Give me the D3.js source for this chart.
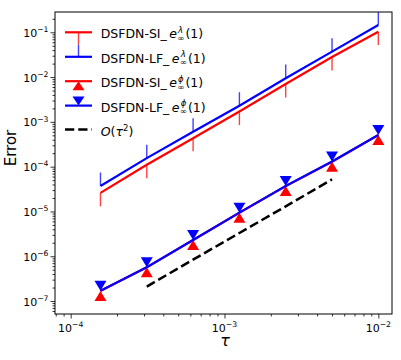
<!DOCTYPE html>
<html>
<head>
<meta charset="utf-8">
<script src="https://cdn.jsdelivr.net/npm/d3@7"></script>
<style>
body { margin: 0; background: #fff; }
text { font-family: "DejaVu Sans", sans-serif; fill: #000; }
</style>
</head>
<body>
<svg id="chart" width="401" height="360"></svg>
<script>
// time steps
var tau = [1.5625e-4, 3.125e-4, 6.25e-4, 1.25e-3, 2.5e-3, 5e-3, 1e-2];

// lambda errors with one sided bars
var siLambda = [2.6e-5, 1.1e-4, 4.3e-4, 1.7e-3, 7.0e-3, 2.8e-2, 1.03e-1];
var siLambdaLow = [1.3e-5, 5.5e-5, 2.2e-4, 8.5e-4, 3.5e-3, 1.4e-2, 5.2e-2];
var lfLambda = [3.7e-5, 1.55e-4, 6.0e-4, 2.3e-3, 9.4e-3, 3.7e-2, 1.46e-1];
var lfLambdaHigh = [7.4e-5, 3.1e-4, 1.2e-3, 4.6e-3, 1.9e-2, 7.4e-2, 2.9e-1];

// phi errors
var siPhi = [1.68e-7, 5.65e-7, 2.3e-6, 9.35e-6, 3.68e-5, 1.29e-4, 5.08e-4];
var lfPhi = [1.7e-7, 5.7e-7, 2.31e-6, 9.4e-6, 3.7e-5, 1.3e-4, 5.1e-4];

// reference slope
var refTau = [3.125e-4, 6.25e-4, 1.25e-3, 2.5e-3, 5e-3];
var refErr = [2.1e-7, 8.4e-7, 3.3e-6, 1.3e-5, 5.2e-5];

var xMajor = [1e-4, 1e-3, 1e-2];
var xExp = ["\u22124", "\u22123", "\u22122"];
var yMajor = [1e-7, 1e-6, 1e-5, 1e-4, 1e-3, 1e-2, 1e-1];
var yExp = ["\u22127", "\u22126", "\u22125", "\u22124", "\u22123", "\u22122", "\u22121"];

var legendNames = ["DSFDN-SI_", "DSFDN-LF_", "DSFDN-SI_", "DSFDN-LF_"];
var legendSup = ["\u03bb", "\u03bb", "\u03d5", "\u03d5"];

var pLeft = 55, pRight = 392, pTop = 12, pBottom = 314;

var svg = d3.select("#chart");

var x = d3.scaleLog().domain([7.91e-5, 1.227e-2]).range([pLeft, pRight]);
var y = d3.scaleLog().domain([5.13e-8, 0.284]).range([pBottom, pTop]);

var plot = svg.append("g");
plot.append("clipPath").attr("id", "clip")
  .append("rect").attr("x", pLeft).attr("y", pTop)
  .attr("width", pRight - pLeft).attr("height", pBottom - pTop);

var body = plot.append("g").attr("clip-path", "url(#clip)");

var line = d3.line()
  .x(function(d) { return x(d[0]); })
  .y(function(d) { return y(d[1]); });

function pairs(xs, ys) {
  return xs.map(function(v, i) { return [v, ys[i]]; });
}

// error bars
function bars(vals, ends, color) {
  body.selectAll(null).data(tau).enter().append("line")
    .attr("x1", function(d) { return x(d); })
    .attr("x2", function(d) { return x(d); })
    .attr("y1", function(d, i) { return y(vals[i]); })
    .attr("y2", function(d, i) { return y(ends[i]); })
    .attr("stroke", color)
    .attr("stroke-width", 1.4)
    .attr("stroke-opacity", 0.75);
}

bars(siLambda, siLambdaLow, "#ff0000");
body.append("path").datum(pairs(tau, siLambda))
  .attr("d", line).attr("fill", "none").attr("stroke", "#ff0000").attr("stroke-width", 2.2);
bars(lfLambda, lfLambdaHigh, "#0000ff");
body.append("path").datum(pairs(tau, lfLambda))
  .attr("d", line).attr("fill", "none").attr("stroke", "#0000ff").attr("stroke-width", 2.2);

function caretUp(w, h) {
  return "M0,0L" + (w / 2) + "," + h + "L" + (-w / 2) + "," + h + "Z";
}
function caretDown(w, h) {
  return "M0,0L" + (w / 2) + "," + (-h) + "L" + (-w / 2) + "," + (-h) + "Z";
}

body.append("path").datum(pairs(tau, siPhi))
  .attr("d", line).attr("fill", "none").attr("stroke", "#ff0000").attr("stroke-width", 2.2);
body.selectAll(null).data(pairs(tau, siPhi)).enter().append("path")
  .attr("d", caretUp(12, 10))
  .attr("transform", function(d) { return "translate(" + x(d[0]) + "," + y(d[1]) + ")"; })
  .attr("fill", "#ff0000");

body.append("path").datum(pairs(tau, lfPhi))
  .attr("d", line).attr("fill", "none").attr("stroke", "#0000ff").attr("stroke-width", 2.2);
body.selectAll(null).data(pairs(tau, lfPhi)).enter().append("path")
  .attr("d", caretDown(12, 10))
  .attr("transform", function(d) { return "translate(" + x(d[0]) + "," + y(d[1]) + ")"; })
  .attr("fill", "#0000ff");

body.append("path").datum(pairs(refTau, refErr))
  .attr("d", line).attr("fill", "none").attr("stroke", "#000")
  .attr("stroke-width", 2.5).attr("stroke-dasharray", "9.25,4");

// axes
var xMinor = x.ticks().filter(function(d) { return xMajor.indexOf(d) < 0; });
var yMinor = y.ticks().filter(function(d) { return yMajor.indexOf(d) < 0; });

function axisPart(axis, tr) {
  var g = plot.append("g").attr("transform", tr).call(axis);
  g.select(".domain").remove();
  g.selectAll("line").attr("stroke", "#000").attr("stroke-width", 0.8);
  g.selectAll("text").remove();
  return g;
}
axisPart(d3.axisBottom(x).tickValues(xMinor).tickSize(2.5), "translate(0," + pBottom + ")");
axisPart(d3.axisBottom(x).tickValues(xMajor).tickSize(4.5), "translate(0," + pBottom + ")");
axisPart(d3.axisLeft(y).tickValues(yMinor).tickSize(2.5), "translate(" + pLeft + ",0)");
axisPart(d3.axisLeft(y).tickValues(yMajor).tickSize(4.5), "translate(" + pLeft + ",0)");

plot.append("rect")
  .attr("x", pLeft).attr("y", pTop)
  .attr("width", pRight - pLeft).attr("height", pBottom - pTop)
  .attr("fill", "none").attr("stroke", "#000").attr("stroke-width", 1);

xMajor.forEach(function(v, i) {
  var t = plot.append("text").attr("x", x(v)).attr("y", 331.5)
    .attr("text-anchor", "middle").attr("font-size", 11);
  t.append("tspan").text("10");
  t.append("tspan").attr("dy", -4.8).attr("font-size", 7.7).text(xExp[i]);
});
yMajor.forEach(function(v, i) {
  var t = plot.append("text").attr("x", 48.5).attr("y", y(v) + 4.5)
    .attr("text-anchor", "end").attr("font-size", 11);
  t.append("tspan").text("10");
  t.append("tspan").attr("dy", -4.8).attr("font-size", 7.7).text(yExp[i]);
});

svg.append("text")
  .attr("transform", "translate(16,148) rotate(-90)")
  .attr("text-anchor", "middle").attr("font-size", 15).text("Error");
svg.append("text")
  .attr("x", 225).attr("y", 346)
  .attr("text-anchor", "middle").attr("font-size", 16).attr("font-style", "italic")
  .text("\u03c4");

// legend
var legend = svg.append("g");
var lx0 = 65, lx1 = 92, tx = 100.7, fs = 12.5;
var base = [38.3, 62.8, 87.2, 111.6, 135.5];

function mathRow(yb, name, sup) {
  var t = legend.append("text").attr("x", tx).attr("y", yb).attr("font-size", fs).text(name);
  var ex = tx + t.node().getComputedTextLength() + 2.5;
  var e = legend.append("text").attr("x", ex).attr("y", yb)
    .attr("font-size", fs).attr("font-style", "italic").text("e");
  var sx = ex + e.node().getComputedTextLength() + 0.3;
  var s1 = legend.append("text").attr("x", sx + 0.8).attr("y", yb - 5.4)
    .attr("font-size", 8.5).attr("font-style", "italic").text(sup);
  var s2 = legend.append("text").attr("x", sx).attr("y", yb + 2.6)
    .attr("font-size", 8.5).text("\u221e");
  var w = Math.max(s1.node().getComputedTextLength() + 0.8, s2.node().getComputedTextLength());
  legend.append("text").attr("x", sx + w + 1).attr("y", yb).attr("font-size", fs).text("(1)");
}

legendNames.forEach(function(n, i) { mathRow(base[i], n, legendSup[i]); });

var ly = base.map(function(b) { return b - 6; });
legend.append("line").attr("x1", lx0).attr("x2", lx1).attr("y1", ly[0]).attr("y2", ly[0])
  .attr("stroke", "#ff0000").attr("stroke-width", 2.2);
legend.append("line").attr("x1", (lx0 + lx1) / 2).attr("x2", (lx0 + lx1) / 2)
  .attr("y1", ly[0]).attr("y2", ly[0] + 12.5)
  .attr("stroke", "#ff0000").attr("stroke-width", 1.4).attr("stroke-opacity", 0.75);
legend.append("line").attr("x1", lx0).attr("x2", lx1).attr("y1", ly[1]).attr("y2", ly[1])
  .attr("stroke", "#0000ff").attr("stroke-width", 2.2);
legend.append("line").attr("x1", (lx0 + lx1) / 2).attr("x2", (lx0 + lx1) / 2)
  .attr("y1", ly[1] - 12).attr("y2", ly[1])
  .attr("stroke", "#0000ff").attr("stroke-width", 1.4).attr("stroke-opacity", 0.75);

legend.append("line").attr("x1", lx0).attr("x2", lx1).attr("y1", ly[2]).attr("y2", ly[2])
  .attr("stroke", "#ff0000").attr("stroke-width", 2.2);
legend.append("path").attr("d", caretUp(12, 9))
  .attr("transform", "translate(" + ((lx0 + lx1) / 2) + "," + ly[2] + ")").attr("fill", "#ff0000");
legend.append("line").attr("x1", lx0).attr("x2", lx1).attr("y1", ly[3]).attr("y2", ly[3])
  .attr("stroke", "#0000ff").attr("stroke-width", 2.2);
legend.append("path").attr("d", caretDown(12, 9))
  .attr("transform", "translate(" + ((lx0 + lx1) / 2) + "," + ly[3] + ")").attr("fill", "#0000ff");

legend.append("line").attr("x1", lx0).attr("x2", lx1).attr("y1", ly[4]).attr("y2", ly[4])
  .attr("stroke", "#000").attr("stroke-width", 2.5).attr("stroke-dasharray", "9.25,4");

// O(tau^2)
var ot = legend.append("text").attr("x", tx).attr("y", base[4]).attr("font-size", fs);
ot.append("tspan").attr("font-style", "italic").text("O");
ot.append("tspan").text("(");
ot.append("tspan").attr("font-style", "italic").text("\u03c4");
ot.append("tspan").attr("dy", -5).attr("font-size", 8.5).text("2");
ot.append("tspan").attr("dy", 5).text(")");
</script>
</body>
</html>
